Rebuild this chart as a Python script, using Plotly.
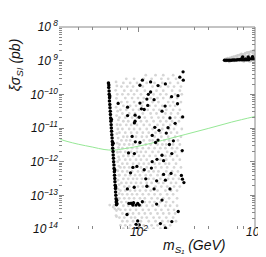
import plotly.graph_objects as go

# ---------------- data ----------------
# green limit curve
limit_mass = [21, 24, 30, 40, 50, 60, 70, 100, 160, 250, 400, 630, 1000]
limit_sigma = [4.6e-12, 4.0e-12, 3.3e-12, 2.7e-12, 2.3e-12, 2.2e-12, 2.35e-12,
               2.9e-12, 4.3e-12, 6.4e-12, 9.8e-12, 1.5e-11, 2.2e-11]

# gray cloud (rows of equal log10 sigma)
gray_row_log_sigma = [-9.43, -9.54, -9.66, -9.77, -9.89, -10.0, -10.11, -10.23, -10.34, -10.46,
                      -10.57, -10.69, -10.8, -10.91, -11.03, -11.14, -11.26, -11.37, -11.49, -11.6,
                      -11.71, -11.83, -11.94, -12.06, -12.17, -12.29, -12.4, -12.51, -12.63, -12.74,
                      -12.86, -12.97, -13.09, -13.2, -13.31, -13.43, -13.54, -13.66, -13.77, -13.89,
                      -13.99]
gray_row_mass = [
    [114.5, 139, 162, 197],
    [77.8, 90.8, 110, 128.6, 156, 178.6, 208.6],
    [73.4, 84, 96.2, 116.7, 136.3, 159, 185.7, 216.8],
    [70.6, 79.3, 89, 108, 131, 153, 178.6, 200.6, 230],
    [74.8, 85.6, 96.2, 112.3, 141.7, 162, 193, 225.3],
    [72, 80.9, 90.8, 104, 133.7, 153, 172, 205, 234],
    [76.3, 87.3, 98.1, 110, 126.1, 144.5, 162, 185.7, 213],
    [70.6, 79.3, 90.8, 108, 131, 147.2, 178.6, 197, 230],
    [73.4, 84, 94.4, 106, 123.7, 139, 159, 185.7, 205],
    [69.2, 77.8, 89, 100, 119, 133.7, 150, 172, 197, 225],
    [72, 82.4, 92.5, 108, 126.1, 141.7, 169, 189, 216.8],
    [67.9, 76.3, 87.3, 96.2, 112.3, 128.6, 147.2, 162, 205, 230],
    [73.4, 80.9, 104, 116.7, 133.7, 153, 172, 193, 221],
    [69.2, 77.8, 85.6, 96.2, 110, 123.7, 144.5, 162, 185.7, 208.6],
    [72, 82.4, 90.8, 102, 116.7, 131, 159, 182, 200.6, 234],
    [67.9, 76.3, 85.6, 96.2, 108, 121.4, 139, 153, 189, 213],
    [73.4, 79.3, 94.4, 106, 116.7, 136.3, 156, 178.6, 205, 230],
    [70.6, 77.8, 84, 110, 123.7, 131, 165.4, 182, 216.8],
    [67.9, 74.8, 82.4, 89, 100, 114.5, 126.1, 144.5, 159, 172, 197, 225],
    [72, 79.3, 87.3, 96.2, 108, 121.4, 136.3, 153, 169, 193, 213],
    [69.2, 76.3, 85.6, 96.2, 104, 114.5, 131, 147.2, 175, 205, 234],
    [73.4, 80.9, 89, 100, 110, 123.7, 139, 169, 185.7, 213],
    [67.9, 76.3, 84, 94.4, 104, 116.7, 153, 172, 197, 225],
    [72, 79.3, 89, 100, 110, 121.4, 136.3, 150, 169, 182, 208.6],
    [69.2, 74.8, 82.4, 92.5, 104, 116.7, 139, 156, 175, 200.6, 230],
    [72, 79.3, 87.3, 98.1, 108, 121.4, 133.7, 147.2, 172, 193, 216.8],
    [67.9, 76.3, 84, 92.5, 102, 114.5, 126.1, 144.5, 159, 182, 205],
    [73.4, 80.9, 89, 96.2, 106, 121.4, 133.7, 153, 178.6, 197, 221],
    [70.6, 77.8, 85.6, 94.4, 104, 116.7, 128.6, 147.2, 162, 189, 208.6],
    [74.8, 82.4, 98.1, 108, 121.4, 139, 156, 175, 200.6, 225],
    [69.2, 76.3, 84, 92.5, 102, 114.5, 126.1, 144.5, 169, 189, 213],
    [72, 79.3, 87.3, 96.2, 108, 121.4, 136.3, 153, 175, 197],
    [67.9, 74.8, 82.4, 90.8, 102, 112.3, 128.6, 144.5, 162, 182, 213],
    [70.6, 77.8, 85.6, 112.3, 123.7, 136.3, 153, 172, 197],
    [73.4, 80.9, 90.8, 104, 116.7, 131, 147.2, 169, 185.7, 213],
    [69.2, 76.3, 84, 94.4, 108, 121.4, 139, 156, 178.6, 200.6],
    [72, 80.9, 89, 100, 112.3, 126.1, 144.5, 162, 182, 205],
    [67.9, 74.8, 85.6, 92.5, 106, 116.7, 133.7, 150, 172, 197],
    [72, 79.3, 89, 104, 121.4, 139, 159, 178.6, 208.6],
    [69.2, 76.3, 84, 98.1, 110, 128.6, 144.5, 165.4, 185.7],
    [73.4, 82.4, 92.5, 106, 119, 133.7, 153, 175],
]

# gray band beside the resonance band
grayband_mass = [63.5, 64.5, 63.0, 65.0, 64.0, 66.0, 63.5, 65.5, 64.2, 66.5, 64.8, 65.8, 64.5,
                 66.2, 65.0, 66.6, 65.3, 66.8, 65.6, 67.0, 65.8, 67.2, 66.0, 67.4, 66.2, 67.5,
                 66.4, 65.0, 66.6, 64.0, 62.0, 63.5, 61.0, 60.0, 56.0, 64.0]
grayband_log_sigma = [-9.63, -9.75, -9.88, -10.0, -10.12, -10.25, -10.38, -10.5, -10.63, -10.76,
                      -10.9, -11.03, -11.17, -11.3, -11.45, -11.58, -11.72, -11.86, -12.0, -12.13,
                      -12.27, -12.4, -12.55, -12.68, -12.82, -12.95, -13.1, -13.25, -13.4, -13.45,
                      -13.4, -13.6, -13.3, -13.35, -13.29, -13.63]

# gray wedge at high mass
wedge_mass = [560, 560, 580, 605, 605, 630, 653, 653, 680, 706, 706, 735, 763, 763, 790, 824, 824,
              855, 891, 891, 925, 962, 962, 985, 985, 940, 870, 800, 730, 660, 600, 900, 800]
wedge_log_sigma = [-8.95, -9.01, -8.93, -8.92, -9.0, -8.90, -8.88, -8.95, -8.87, -8.85, -8.92,
                   -8.83, -8.80, -8.87, -8.82, -8.78, -8.85, -8.76, -8.75, -8.82, -8.73, -8.71,
                   -8.78, -8.70, -8.85, -8.9, -8.9, -8.92, -8.94, -9.0, -9.03, -9.02, -9.02]

# black resonance band
band_mass = [54.6, 55.0, 54.9, 55.3, 55.4, 55.8, 55.7, 56.1, 56.3, 56.6, 56.8, 57.0, 57.3, 57.6,
             57.8, 58.1, 58.3, 58.7, 58.9, 59.2, 59.4, 59.8, 60.0, 60.3, 60.5, 60.9, 61.0, 61.4,
             61.6, 61.9, 62.1, 62.4, 62.7, 62.9, 63.2, 63.5, 63.7, 64.0,
             56.0, 57.9, 59.9, 61.8, 63.0, 64.3, 64.6]
band_log_sigma = [-9.66, -9.72, -9.8, -9.9, -10.0, -10.1, -10.2, -10.3, -10.4, -10.5, -10.6, -10.7,
                  -10.8, -10.9, -11.0, -11.1, -11.2, -11.3, -11.4, -11.5, -11.6, -11.7, -11.8,
                  -11.9, -12.0, -12.1, -12.2, -12.3, -12.4, -12.5, -12.6, -12.7, -12.8, -12.9,
                  -13.0, -13.1, -13.2, -13.28,
                  -10.05, -10.75, -11.45, -12.25, -12.75, -13.15, -13.25]

# black cloud points
black_mass = [240, 225, 241, 107, 102, 126, 146, 169, 120.5, 126, 135, 191, 217, 66.2, 102, 119,
              168, 215, 111, 158, 238, 79.8, 100.5, 92.6, 91.3, 185, 205, 137, 178, 149, 172, 130,
              87.3, 93, 102, 146, 198, 236, 183, 139, 158, 192, 143, 163, 130, 96, 111, 128, 163,
              189, 232, 237, 244, 114.5, 142, 169, 91, 117, 135, 185, 158, 88.5, 97.5, 100.6, 107,
              142, 218, 192, 97.5, 100.6, 96, 153, 169, 79.5, 84.6, 88.6, 85.6, 81.3, 91.3, 81.9,
              89.9, 94.4, 78.9, 94.4, 117, 79.8, 105, 92.6]
black_log_sigma = [-9.33, -9.49, -9.58, -9.58, -9.73, -9.63, -9.74, -9.69, -10.0, -9.93, -10.16,
                   -10.07, -10.04, -10.27, -10.26, -10.33, -10.35, -10.28, -10.45, -10.5, -10.67,
                   -10.63, -10.68, -10.8, -10.85, -10.7, -10.86, -10.98, -10.99, -11.07, -11.15,
                   -11.22, -11.25, -11.41, -11.43, -11.36, -11.38, -11.67, -11.49, -11.43, -11.81,
                   -11.76, -11.93, -11.97, -12.0, -12.14, -12.24, -12.19, -12.38, -12.35, -12.41,
                   -12.52, -12.62, -12.51, -12.57, -12.55, -12.76, -12.73, -12.81, -12.81, -13.14,
                   -13.29, -13.24, -13.29, -13.19, -13.26, -13.48, -13.78, -13.76, -13.88, -13.98,
                   -13.84, -13.97, -12.81, -12.33, -12.17, -13.24, -11.74, -11.76, -13.24, -13.22,
                   -13.29, -13.57, -13.86, -10.14, -10.38, -10.43, -10.62]

# black high-mass line
high_mass = [546, 565, 585, 605, 625, 645, 667, 690, 713, 737, 762, 788, 815, 842, 870, 900, 930,
             962, 995, 760, 830, 900, 970, 783, 874, 951]
high_log_sigma = [-8.99, -8.99, -8.99, -8.985, -8.985, -8.98, -8.98, -8.98, -8.975, -8.975,
                  -8.975, -8.97, -8.97, -8.97, -8.97, -8.965, -8.965, -8.965, -8.965,
                  -8.95, -8.95, -8.945, -8.945, -8.89, -8.89, -8.88]

y_tick_vals = [1e-14, 1e-13, 1e-12, 1e-11, 1e-10, 1e-9, 1e-8]
y_tick_text = ["10<sup> 14</sup>", "10<sup>\u221213</sup>", "10<sup>\u221212</sup>",
               "10<sup>\u221211</sup>", "10<sup>\u221210</sup>", "10<sup> 9</sup>", "10<sup> 8</sup>"]
x_tick_vals = [100, 1000]
x_tick_text = ["10<sup>2</sup>", "10<sup>3</sup>"]
x_minor_vals = [30, 40, 70, 80, 300, 400, 700, 800]
y_minor_vals = [k * 10.0 ** e for e in range(-14, -8) for k in range(2, 10)]

# ---------------- figure ----------------
gx, gy = [], []
for ls, row in zip(gray_row_log_sigma, gray_row_mass):
    for m in row:
        gx.append(m)
        gy.append(10 ** ls)

GRAY = "#d6d6d6"
fig = go.Figure()
fig.add_trace(go.Scatter(x=gx, y=gy, mode="markers",
                         marker=dict(color=GRAY, size=2.8, line=dict(width=0)), hoverinfo="skip"))
fig.add_trace(go.Scatter(x=grayband_mass, y=[10 ** v for v in grayband_log_sigma], mode="markers",
                         marker=dict(color=GRAY, size=2.8, line=dict(width=0)), hoverinfo="skip"))
fig.add_trace(go.Scatter(x=wedge_mass, y=[10 ** v for v in wedge_log_sigma], mode="markers",
                         marker=dict(color="#cccccc", size=3, line=dict(width=0)), hoverinfo="skip"))
fig.add_trace(go.Scatter(x=limit_mass, y=limit_sigma, mode="lines", line=dict(color="#96e896", width=1),
                         line_shape="spline", hoverinfo="skip"))
fig.add_trace(go.Scatter(x=band_mass, y=[10 ** v for v in band_log_sigma], mode="markers",
                         marker=dict(color="black", size=3.5, line=dict(width=0)), hoverinfo="skip"))
fig.add_trace(go.Scatter(x=black_mass, y=[10 ** v for v in black_log_sigma], mode="markers",
                         marker=dict(color="black", size=3.3, line=dict(width=0)), hoverinfo="skip"))
fig.add_trace(go.Scatter(x=high_mass, y=[10 ** v for v in high_log_sigma], mode="markers",
                         marker=dict(color="black", size=3.5, line=dict(width=0)), hoverinfo="skip"))

TICKC = "#888888"
FONT = "Liberation Sans, Arial, sans-serif"
tickfont = dict(family=FONT, size=12, color="#111", style="italic")

fig.update_layout(
    width=266, height=257,
    margin=dict(l=51, r=14, t=10, b=36),
    paper_bgcolor="white", plot_bgcolor="white",
    showlegend=False,
    xaxis=dict(type="log", range=[1.311, 3], showgrid=False, zeroline=False, showline=False,
               tickmode="array", tickvals=x_tick_vals, ticktext=x_tick_text,
               ticks="inside", ticklen=5, tickcolor=TICKC, tickwidth=1, mirror="ticks",
               tickfont=tickfont, ticklabelstandoff=-6,
               minor=dict(tickmode="array", tickvals=x_minor_vals, ticks="inside",
                          ticklen=3, tickcolor=TICKC, tickwidth=1, showgrid=False)),
    yaxis=dict(type="log", range=[-14, -8], showgrid=False, zeroline=False, showline=False,
               tickmode="array", tickvals=y_tick_vals, ticktext=y_tick_text,
               ticks="inside", ticklen=5, tickcolor=TICKC, tickwidth=1, mirror="ticks",
               tickfont=tickfont,
               minor=dict(tickmode="array", tickvals=y_minor_vals, ticks="inside",
                          ticklen=3, tickcolor=TICKC, tickwidth=1, showgrid=False)),
    shapes=[
        dict(type="line", xref="paper", yref="paper", x0=0, x1=1, y0=1, y1=1,
             line=dict(color=TICKC, width=1)),
        dict(type="line", xref="paper", yref="paper", x0=1, x1=1, y0=0, y1=1,
             line=dict(color=TICKC, width=1)),
    ],
    annotations=[
        dict(text="m<sub>S\u2081</sub> (GeV)", xref="paper", yref="paper", x=0.69, y=-0.085,
             xanchor="center", yanchor="middle", showarrow=False,
             font=dict(family=FONT, size=14, color="#111", style="italic")),
        dict(text="\u03be\u03c3<sub>SI</sub> (pb)", xref="paper", yref="paper", x=-0.215, y=0.815,
             xanchor="center", yanchor="middle", showarrow=False, textangle=-90,
             font=dict(family=FONT, size=14, color="#111", style="italic")),
    ],
)

fig.write_html("out.html")
